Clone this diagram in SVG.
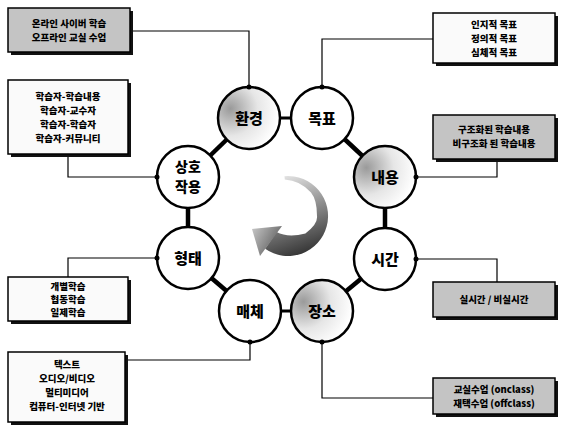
<svg xmlns="http://www.w3.org/2000/svg" width="565" height="427" viewBox="0 0 565 427">
<defs>
<style>
.box{stroke:#000;stroke-width:1.5}
.gray{fill:#c4c4c4}
.white{fill:#fafafa}
.shadow{fill:#111}
.bt{font-family:"Noto Sans CJK KR","Noto Sans",sans-serif;font-weight:900;font-size:9.5px;fill:#000;text-anchor:middle}
.ct{font-family:"Noto Sans CJK KR","Noto Sans",sans-serif;font-weight:900;font-size:15px;fill:#000;text-anchor:middle}
.ct2{font-family:"Noto Sans CJK KR","Noto Sans",sans-serif;font-weight:900;font-size:14px;fill:#000;text-anchor:middle}
.node{stroke:#000;stroke-width:2.5}
.thin{fill:none;stroke:#000;stroke-width:1.2}
.thick{stroke:#000;stroke-width:4.5}
.mid{stroke:#000;stroke-width:3}
.dot{fill:#000}
</style>
<radialGradient id="shade" cx="0.2" cy="0.35" r="0.8">
<stop offset="0" stop-color="#9a9a9a"/>
<stop offset="0.55" stop-color="#e6e6e6"/>
<stop offset="1" stop-color="#ffffff"/>
</radialGradient>
<linearGradient id="body" gradientUnits="userSpaceOnUse" x1="285" y1="176" x2="312" y2="252">
<stop offset="0" stop-color="#e2e2e2"/>
<stop offset="0.5" stop-color="#888"/>
<stop offset="1" stop-color="#333"/>
</linearGradient>
<linearGradient id="head" gradientUnits="userSpaceOnUse" x1="282" y1="248" x2="250" y2="230">
<stop offset="0" stop-color="#555"/>
<stop offset="1" stop-color="#c8c8c8"/>
</linearGradient>
</defs>
<rect width="565" height="427" fill="#fff"/>

<g id="connectors">
<line class="mid" x1="249" y1="118" x2="322" y2="118"/>
<line class="thick" x1="322" y1="118" x2="385" y2="177"/>
<line class="thick" x1="385" y1="177" x2="385" y2="259"/>
<line class="thick" x1="385" y1="259" x2="322" y2="311"/>
<line class="mid" x1="322" y1="311" x2="250" y2="311"/>
<line class="thick" x1="250" y1="311" x2="188" y2="258"/>
<line class="thick" x1="188" y1="258" x2="188" y2="177"/>
<line class="thick" x1="188" y1="177" x2="249" y2="118"/>
<polyline class="thin" points="249,87 249,31 130,31"/>
<polyline class="thin" points="322,87 322,39 433,39"/>
<polyline class="thin" points="416,177 497,177 497,160"/>
<polyline class="thin" points="416,259 497,259 497,282"/>
<polyline class="thin" points="322,342 322,398 433,398"/>
<polyline class="thin" points="250,342 250,360 125,360"/>
<polyline class="thin" points="157,258 68,258 68,277"/>
<polyline class="thin" points="157,177 68,177 68,155"/>
</g>

<g id="arrow">
<path d="M284.5,176.2 A40,40 0 1 1 265.1,248.8 L276.5,232 Q288,238 305.4,233.4 Q318,224 317,216 Q317,200 311,192.6 Q300,180.5 284.8,179.6 Z" fill="url(#body)"/>
<path d="M260,256 L282,226 L252,229 Z" fill="url(#head)"/>
</g>

<g id="n-env"><circle class="node" cx="249" cy="118" r="31" fill="url(#shade)"/><text class="ct" x="249" y="124">환경</text><circle class="dot" cx="249" cy="87" r="2.5"/></g>
<g id="n-goal"><circle class="node" cx="322" cy="118" r="31" fill="#fff"/><text class="ct" x="322" y="124">목표</text><circle class="dot" cx="322" cy="87" r="2.5"/></g>
<g id="n-content"><circle class="node" cx="385" cy="177" r="31" fill="url(#shade)"/><text class="ct" x="385" y="183">내용</text><circle class="dot" cx="416" cy="177" r="2.5"/></g>
<g id="n-time"><circle class="node" cx="385" cy="259" r="31" fill="#fff"/><text class="ct" x="385" y="265">시간</text><circle class="dot" cx="416" cy="259" r="2.5"/></g>
<g id="n-place"><circle class="node" cx="322" cy="311" r="31" fill="url(#shade)"/><text class="ct" x="322" y="317">장소</text><circle class="dot" cx="322" cy="342" r="2.5"/></g>
<g id="n-media"><circle class="node" cx="250" cy="311" r="31" fill="#fff"/><text class="ct" x="250" y="317">매체</text><circle class="dot" cx="250" cy="342" r="2.5"/></g>
<g id="n-form"><circle class="node" cx="188" cy="258" r="31" fill="#fff"/><text class="ct" x="188" y="264">형태</text><circle class="dot" cx="157" cy="258" r="2.5"/></g>
<g id="n-inter"><circle class="node" cx="188" cy="177" r="31" fill="#fff"/><text class="ct2" x="188" y="172">상호</text><text class="ct2" x="188" y="192">작용</text><circle class="dot" cx="157" cy="177" r="2.5"/></g>

<g id="b-env"><rect class="shadow" x="11" y="11" width="122" height="44"/><rect class="box gray" x="8" y="8" width="122" height="44"/><text class="bt" x="69" y="27">온라인 사이버 학습</text><text class="bt" x="69" y="41">오프라인 교실 수업</text></g>
<g id="b-inter"><rect class="shadow" x="11" y="83" width="120" height="74"/><rect class="box white" x="8" y="80" width="120" height="74"/><text class="bt" x="68" y="100">학습자-학습내용</text><text class="bt" x="68" y="114">학습자-교수자</text><text class="bt" x="68" y="128">학습자-학습자</text><text class="bt" x="68" y="142">학습자-커뮤니티</text></g>
<g id="b-form"><rect class="shadow" x="11" y="280" width="120" height="44"/><rect class="box white" x="8" y="277" width="120" height="44"/><text class="bt" x="68" y="290">개별학습</text><text class="bt" x="68" y="303">협동학습</text><text class="bt" x="68" y="316">일제학습</text></g>
<g id="b-media"><rect class="shadow" x="11" y="355" width="117" height="70"/><rect class="box white" x="8" y="352" width="117" height="70"/><text class="bt" x="67" y="368">텍스트</text><text class="bt" x="67" y="382">오디오/비디오</text><text class="bt" x="67" y="396">멀티미디어</text><text class="bt" x="67" y="410">컴퓨터-인터넷 기반</text></g>
<g id="b-goal"><rect class="shadow" x="436" y="16" width="122" height="50"/><rect class="box white" x="433" y="13" width="122" height="50"/><text class="bt" x="494" y="28">인지적 목표</text><text class="bt" x="494" y="42">정의적 목표</text><text class="bt" x="494" y="56">심체적 목표</text></g>
<g id="b-content"><rect class="shadow" x="436" y="118" width="122" height="44"/><rect class="box gray" x="433" y="115" width="122" height="44"/><text class="bt" x="494" y="133">구조화된 학습내용</text><text class="bt" x="494" y="147">비구조화 된 학습내용</text></g>
<g id="b-time"><rect class="shadow" x="436" y="285" width="122" height="35"/><rect class="box gray" x="433" y="282" width="122" height="35"/><text class="bt" x="494" y="303">실시간 / 비실시간</text></g>
<g id="b-place"><rect class="shadow" x="436" y="381" width="122" height="36"/><rect class="box gray" x="433" y="378" width="122" height="36"/><text class="bt" x="494" y="393">교실수업 (onclass)</text><text class="bt" x="494" y="407">재택수업 (offclass)</text></g>
</svg>
